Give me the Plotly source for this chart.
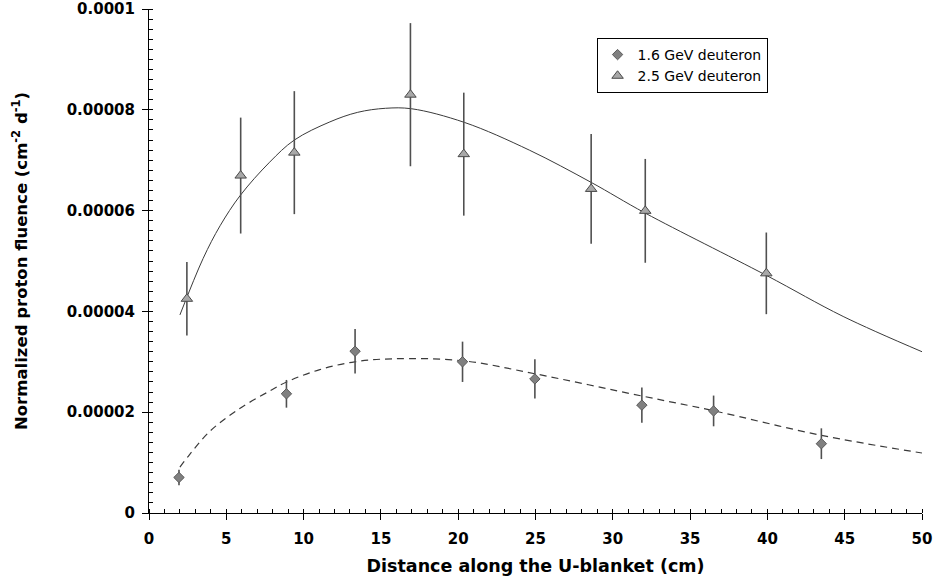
import plotly.graph_objects as go

# Measured proton fluence, 1.6 GeV deuteron irradiation
d16_x = [1.94, 8.89, 13.33, 20.28, 24.96, 31.88, 36.52, 43.49]
d16_y = [7.05e-6, 23.65e-6, 32.1e-6, 30.0e-6, 26.6e-6, 21.4e-6, 20.25e-6, 13.75e-6]
d16_err = [1.55e-6, 2.75e-6, 4.4e-6, 4.0e-6, 3.9e-6, 3.5e-6, 3.05e-6, 3.05e-6]

# Measured proton fluence, 2.5 GeV deuteron irradiation
d25_x = [2.45, 5.93, 9.40, 16.91, 20.36, 28.6, 32.1, 39.93]
d25_y = [42.5e-6, 66.95e-6, 71.5e-6, 83.0e-6, 71.2e-6, 64.3e-6, 59.95e-6, 47.55e-6]
d25_err = [7.3e-6, 11.5e-6, 12.2e-6, 14.2e-6, 12.2e-6, 10.9e-6, 10.3e-6, 8.1e-6]

# Fitted curves
fit16_x = [2.0, 2.6, 3.9, 5.7, 7.8, 8.9, 11.0, 13.3, 15.8, 20.3, 25.0, 31.9, 36.5, 43.5, 50.0]
fit16_y = [9.1e-6, 11.5e-6, 16.1e-6, 20.4e-6, 24.2e-6, 26.0e-6, 28.4e-6, 30.0e-6, 30.6e-6,
           30.2e-6, 27.6e-6, 23.2e-6, 20.3e-6, 15.4e-6, 11.9e-6]
fit25_x = [2.0, 3.5, 4.6, 5.9, 7.8, 9.4, 11.7, 13.5, 15.3, 17.0, 20.4, 24.6, 28.6, 32.1, 39.9, 44.9, 50.0]
fit25_y = [39.3e-6, 50.5e-6, 57.0e-6, 63.0e-6, 69.6e-6, 74.0e-6, 77.6e-6, 79.5e-6, 80.3e-6, 80.2e-6,
           77.5e-6, 72.0e-6, 65.6e-6, 59.5e-6, 47.2e-6, 39.0e-6, 32.0e-6]

# Axis ticks
x_ticks = [0, 5, 10, 15, 20, 25, 30, 35, 40, 45, 50]
y_ticks = [0, 0.00002, 0.00004, 0.00006, 0.00008, 0.0001]
y_ticktext = ["0", "0.00002", "0.00004", "0.00006", "0.00008", "0.0001"]

TICK_FONT = dict(family="DejaVu Sans", size=15, color="black", weight="bold")

fig = go.Figure()

fig.add_trace(go.Scatter(
    x=fit25_x, y=fit25_y, mode="lines", showlegend=False, hoverinfo="skip",
    line=dict(color="#3a3a3a", width=1, shape="spline", smoothing=1.0),
))
fig.add_trace(go.Scatter(
    x=fit16_x, y=fit16_y, mode="lines", showlegend=False, hoverinfo="skip",
    line=dict(color="#3a3a3a", width=1.2, dash="7px,5px", shape="spline", smoothing=1.0),
))

fig.add_trace(go.Scatter(
    x=d16_x, y=d16_y, mode="markers", name="1.6 GeV deuteron",
    error_y=dict(type="data", array=d16_err, visible=True, color="#505050",
                 thickness=1.6, width=0),
    marker=dict(symbol="diamond", size=8, color="#808080",
                line=dict(color="#5a5a5a", width=1)),
))
fig.add_trace(go.Scatter(
    x=d25_x, y=d25_y, mode="markers", name="2.5 GeV deuteron",
    error_y=dict(type="data", array=d25_err, visible=True, color="#505050",
                 thickness=1.6, width=0),
    marker=dict(symbol="triangle-up", size=10, color="#a8a8a8",
                line=dict(color="#4a4a4a", width=1)),
))

fig.update_layout(
    width=935, height=584,
    margin=dict(l=149, r=13, t=9, b=71),
    paper_bgcolor="white", plot_bgcolor="white",
    legend=dict(
        x=0.579, y=0.9425, xanchor="left", yanchor="top",
        bgcolor="white", bordercolor="black", borderwidth=1,
        font=dict(family="DejaVu Sans", size=14, color="black"),
        itemwidth=30, tracegroupgap=0,
    ),
    xaxis=dict(
        range=[0, 50], tickvals=x_ticks, showgrid=False, zeroline=False,
        automargin=False,
        showline=True, linecolor="black", linewidth=1,
        ticks="outside", ticklen=6, tickcolor="black", tickwidth=1,
        tickfont=TICK_FONT, ticklabelstandoff=6,
        minor=dict(dtick=1, ticks="inside", ticklen=4, tickcolor="black", tickwidth=1),
        title=dict(text="Distance along the U-blanket (cm)",
                   font=dict(family="DejaVu Sans", size=17.5, color="black", weight="bold"),
                   standoff=12),
    ),
    yaxis=dict(
        range=[0, 0.0001], tickvals=y_ticks, ticktext=y_ticktext,
        showgrid=False, zeroline=False, automargin=False,
        showline=True, linecolor="black", linewidth=1,
        ticks="outside", ticklen=6, tickcolor="black", tickwidth=1,
        tickfont=TICK_FONT, ticklabelstandoff=4,
        minor=dict(dtick=0.000002, tick0=0, ticks="inside", ticklen=4,
                   tickcolor="black", tickwidth=1),
        title=dict(text="Normalized proton fluence (cm<sup>-2</sup> d<sup>-1</sup>)",
                   font=dict(family="DejaVu Sans", size=16.5, color="black", weight="bold"),
                   standoff=34),
    ),
)

fig.write_html("out.html")
